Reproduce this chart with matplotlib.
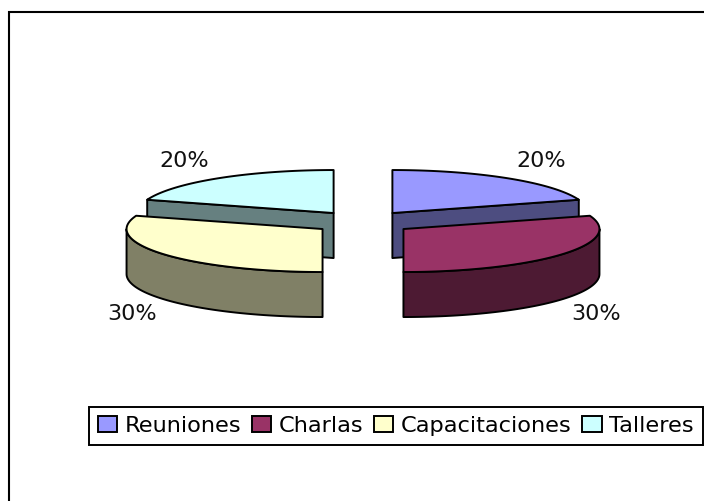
import numpy as np
import matplotlib
matplotlib.use('Agg')
import matplotlib.pyplot as plt
from matplotlib.patches import Polygon, Patch

plt.rcParams['font.family'] = ['DejaVu Sans']

categories = ['Reuniones', 'Charlas', 'Capacitaciones', 'Talleres']
values = [20, 30, 30, 20]
top_colors = ['#9999FF', '#993366', '#FFFFCC', '#CCFFFF']
side_colors = ['#4D4D80', '#4D1A33', '#808066', '#668080']

# pie geometry, in pixels
cx, cy = 363, 223.3
rx, ry = 196, 43
ex, ey = 50, 11.45
depth = 45
label_pos = [(541, 161), (596, 314), (132, 314), (184, 161)]

fig = plt.figure(figsize=(7.04, 5.02), dpi=100)
ax = fig.add_axes([0, 0, 1, 1])
ax.set_xlim(0, 704)
ax.set_ylim(502, 0)
ax.axis('off')

# outer chart frame
ax.plot([9, 9, 704], [502, 13, 13], color='black', lw=1.5, solid_joinstyle='miter')


def rim(x0, y0, a, b):
    t = np.radians(np.linspace(a, b, 80))
    return np.column_stack([x0 + rx*np.sin(t), y0 - ry*np.cos(t)])


total = sum(values)
edges = np.cumsum([0] + values) / total * 360
mids = (edges[:-1] + edges[1:]) / 2

# back slices first
for i in np.argsort(-np.cos(np.radians(mids))):
    a, b = edges[i], edges[i+1]
    x0 = cx + ex*np.sin(np.radians(mids[i]))
    y0 = cy - ey*np.cos(np.radians(mids[i]))
    apex = np.array([[x0, y0]])
    walls = []
    # flat cut faces that look to the viewer
    for ang, visible in ((a, np.sin(np.radians(a)) < -1e-6), (b, np.sin(np.radians(b)) > 1e-6)):
        if visible:
            p = rim(x0, y0, ang, ang)[:1]
            walls.append(np.vstack([apex, p, p + [0, depth], apex + [0, depth]]))
    # round outer wall
    lo, hi = max(a, 90), min(b, 270)
    if hi > lo:
        arc = rim(x0, y0, lo, hi)
        walls.append(np.vstack([arc, arc[::-1] + [0, depth]]))
    for w in walls:
        ax.add_patch(Polygon(w, closed=True, fc=side_colors[i], ec='black', lw=1.4, joinstyle='round'))
    top = np.vstack([apex, rim(x0, y0, a, b)])
    ax.add_patch(Polygon(top, closed=True, fc=top_colors[i], ec='black', lw=1.4, joinstyle='round'))

for v, (lx, ly) in zip(values, label_pos):
    ax.text(lx, ly, '%d%%' % round(100*v/total), ha='center', va='center', fontsize=16, color='#111111')

handles = [Patch(fc=c, ec='black', lw=1.4) for c in top_colors]
leg = ax.legend(handles, categories, ncol=4, mode='expand', loc='center',
                bbox_to_anchor=(89/704, 1-445/502, 614/704, 37/502),
                bbox_transform=fig.transFigure, fontsize=16.2, fancybox=False,
                framealpha=1, edgecolor='black', borderaxespad=0, borderpad=0.4,
                handlelength=0.85, handleheight=0.72, handletextpad=0.35, columnspacing=0.3)
leg.get_frame().set_linewidth(1.4)

fig.savefig('out.png', dpi=100)
